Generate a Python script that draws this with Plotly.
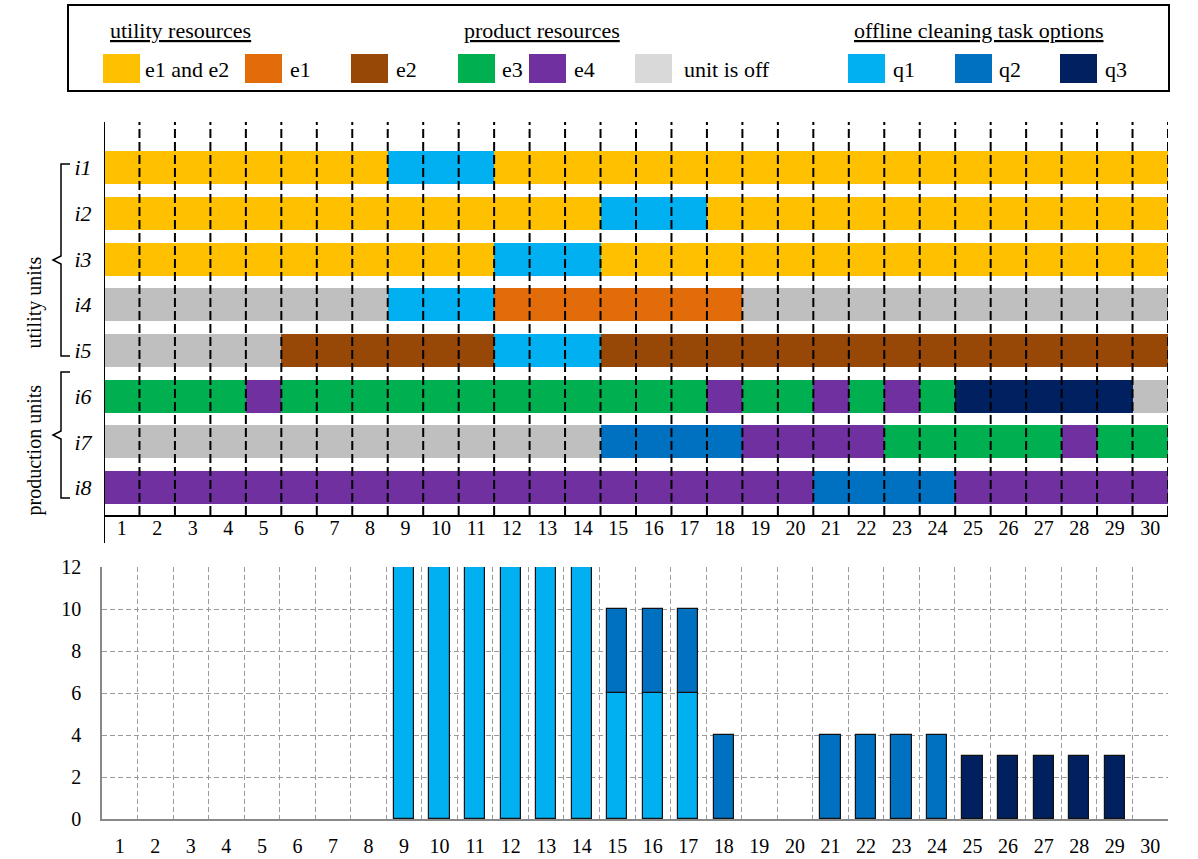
import plotly.graph_objects as go

# ---------------- data ----------------
periods = list(range(1, 31))
units = ["i1", "i2", "i3", "i4", "i5", "i6", "i7", "i8"]

# schedule per unit: (first period, last period, state)
sched_i1 = [(1, 8, "e12"), (9, 11, "q1"), (12, 30, "e12")]
sched_i2 = [(1, 14, "e12"), (15, 17, "q1"), (18, 30, "e12")]
sched_i3 = [(1, 11, "e12"), (12, 14, "q1"), (15, 30, "e12")]
sched_i4 = [(1, 8, "off"), (9, 11, "q1"), (12, 18, "e1"), (19, 30, "off")]
sched_i5 = [(1, 5, "off"), (6, 11, "e2"), (12, 14, "q1"), (15, 30, "e2")]
sched_i6 = [(1, 4, "e3"), (5, 5, "e4"), (6, 17, "e3"), (18, 18, "e4"), (19, 20, "e3"),
            (21, 21, "e4"), (22, 22, "e3"), (23, 23, "e4"), (24, 24, "e3"),
            (25, 29, "q3"), (30, 30, "off")]
sched_i7 = [(1, 14, "off"), (15, 18, "q2"), (19, 22, "e4"), (23, 27, "e3"),
            (28, 28, "e4"), (29, 30, "e3")]
sched_i8 = [(1, 20, "e4"), (21, 24, "q2"), (25, 30, "e4")]
schedules = [sched_i1, sched_i2, sched_i3, sched_i4, sched_i5, sched_i6, sched_i7, sched_i8]

# number of units in cleaning per period
q1_count = [0, 0, 0, 0, 0, 0, 0, 0, 12, 12, 12, 12, 12, 12, 6, 6, 6, 0, 0, 0, 0, 0, 0, 0, 0, 0, 0, 0, 0, 0]
q2_count = [0, 0, 0, 0, 0, 0, 0, 0, 0, 0, 0, 0, 0, 0, 4, 4, 4, 4, 0, 0, 4, 4, 4, 4, 0, 0, 0, 0, 0, 0]
q3_count = [0, 0, 0, 0, 0, 0, 0, 0, 0, 0, 0, 0, 0, 0, 0, 0, 0, 0, 0, 0, 0, 0, 0, 0, 3, 3, 3, 3, 3, 0]

# legend labels
legend_labels = ["e1 and e2", "e1", "e2", "e3", "e4", "unit is off", "q1", "q2", "q3"]
legend_states = ["e12", "e1", "e2", "e3", "e4", "off_leg", "q1", "q2", "q3"]
legend_headers = ["utility resources", "product resources", "offline cleaning task options"]

# ---------------- style ----------------
colors = {
    "e12": "#FFC000", "e1": "#E36C0A", "e2": "#974706", "e3": "#00B050",
    "e4": "#7030A0", "off": "#BFBFBF", "off_leg": "#D9D9D9",
    "q1": "#00B0F0", "q2": "#0070C0", "q3": "#002060",
}
FONT = "Liberation Serif"
W, H = 1198, 859


def px(x):
    return x / W


def py(y):
    return 1 - y / H


fig = go.Figure()

# ---------------- Gantt ----------------
state_order = ["e12", "e1", "e2", "e3", "e4", "off", "q1", "q2", "q3"]
for st in state_order:
    ys, bases, lens = [], [], []
    for ui, sched in enumerate(schedules):
        for a, b, s in sched:
            if s == st:
                ys.append(ui + 1)
                bases.append(a - 0.5)
                lens.append(b - a + 1)
    if ys:
        fig.add_trace(go.Bar(
            orientation="h", y=ys, x=lens, base=bases, width=0.72,
            marker=dict(color=colors[st], line=dict(width=0)),
            xaxis="x", yaxis="y", showlegend=False, hoverinfo="skip",
        ))

# ---------------- bar chart ----------------
def nz(v):
    return [None if x == 0 else x for x in v]


bar_line = dict(color="#111111", width=1.2)
fig.add_trace(go.Bar(x=periods, y=nz(q1_count), width=0.57,
                     marker=dict(color=colors["q1"], line=bar_line),
                     xaxis="x2", yaxis="y2", showlegend=False))
fig.add_trace(go.Bar(x=periods, y=nz(q2_count), base=q1_count, width=0.57,
                     marker=dict(color=colors["q2"], line=bar_line),
                     xaxis="x2", yaxis="y2", showlegend=False))
fig.add_trace(go.Bar(x=periods, y=nz(q3_count), width=0.57,
                     marker=dict(color=colors["q3"], line=bar_line),
                     xaxis="x2", yaxis="y2", showlegend=False))

shapes = []
annotations = []

# dashed vertical separators in Gantt
for k in periods:
    shapes.append(dict(type="line", xref="x", yref="y domain", x0=k + 0.5, x1=k + 0.5,
                       y0=0, y1=1, line=dict(color="black", width=2, dash="9px,4px"),
                       layer="above"))
# Gantt vertical axis line (extends below x axis)
shapes.append(dict(type="line", xref="x", yref="y domain", x0=0.5, x1=0.5, y0=-0.0712, y1=1,
                   line=dict(color="black", width=2), layer="above"))

# brackets
def bracket(top, notch, bottom):
    p = (f"M {px(70)},{py(top)} L {px(61)},{py(top)} L {px(61)},{py(notch - 4)} "
         f"L {px(53)},{py(notch)} L {px(61)},{py(notch + 4)} L {px(61)},{py(bottom)} "
         f"L {px(70)},{py(bottom)}")
    return dict(type="path", xref="paper", yref="paper", path=p,
                line=dict(color="black", width=1.5))


shapes.append(bracket(164, 260, 356))
shapes.append(bracket(372, 435, 498))
annotations.append(dict(text="utility units", x=px(20), y=py(255), xref="paper", yref="paper",
                        textangle=-90, showarrow=False, font=dict(family=FONT, size=20, color="black")))
annotations.append(dict(text="production units", x=px(20), y=py(450), xref="paper", yref="paper",
                        textangle=-90, showarrow=False, font=dict(family=FONT, size=20, color="black")))

# legend box
shapes.append(dict(type="rect", xref="paper", yref="paper", x0=px(68), x1=px(1169),
                   y0=py(91), y1=py(5), line=dict(color="black", width=2)))
header_x = [108, 462, 852]
for t, hx in zip(legend_headers, header_x):
    annotations.append(dict(text=f"<u>{t}</u>", x=px(hx), y=py(30), xref="paper", yref="paper",
                            xanchor="left", yanchor="middle", showarrow=False,
                            font=dict(family=FONT, size=22, color="black")))
swatch_x = [103, 245, 351, 458, 529, 635, 848, 955, 1060]
text_x = [143, 288, 394, 500, 572, 682, 891, 997, 1103]
for lab, st, sx, tx in zip(legend_labels, legend_states, swatch_x, text_x):
    shapes.append(dict(type="rect", xref="paper", yref="paper", x0=px(sx), x1=px(sx + 37),
                       y0=py(83), y1=py(54), fillcolor=colors[st], line=dict(width=0)))
    annotations.append(dict(text=lab, x=px(tx), y=py(69), xref="paper", yref="paper",
                            xanchor="left", yanchor="middle", showarrow=False,
                            font=dict(family=FONT, size=22, color="black")))

grid_c = "#9A9A9A"
fig.update_layout(
    template="none",
    width=W, height=H, margin=dict(l=0, r=0, t=0, b=0, pad=0, autoexpand=False),
    paper_bgcolor="white", plot_bgcolor="white",
    barmode="overlay", bargap=0,
    font=dict(family=FONT, color="black"),
    shapes=shapes, annotations=annotations,
    xaxis=dict(domain=[px(104), px(1168)], range=[0.5, 30.5], anchor="y", automargin=False,
               tickvals=periods, ticktext=[str(p) for p in periods],
               showgrid=False, zeroline=False, showline=True, linecolor="black", linewidth=2,
               ticks="", ticklabelstandoff=-6,
               tickfont=dict(family=FONT, size=20, color="black")),
    yaxis=dict(domain=[py(515), py(122)], range=[8.6, 0], anchor="x", automargin=False,
               tickvals=list(range(1, 9)), ticktext=[f"<i>{u}</i>" for u in units],
               showgrid=False, zeroline=False, showline=False,
               ticks="outside", ticklen=7, tickcolor="rgba(0,0,0,0)",
               tickfont=dict(family=FONT, size=22, color="black")),
    xaxis2=dict(domain=[px(102), px(1168)], range=[0.5, 30.5], anchor="y2", automargin=False,
                tickvals=periods, ticktext=[str(p) for p in periods],
                showgrid=False, zeroline=False, showline=True, linecolor="#888888", linewidth=1.5,
                ticks="outside", ticklen=8, tickcolor="rgba(0,0,0,0)",
                minor=dict(tick0=0.5, dtick=1, showgrid=True, gridcolor=grid_c, gridwidth=1,
                           griddash="5px,3px", ticks=""),
                tickfont=dict(family=FONT, size=20, color="black")),
    yaxis2=dict(domain=[py(819), py(567)], range=[0, 12], anchor="x2", automargin=False,
                tickvals=[0, 2, 4, 6, 8, 10, 12], showgrid=True, gridcolor=grid_c, gridwidth=1,
                griddash="5px,3px", zeroline=False, showline=True, linecolor="#888888", linewidth=1.5,
                ticks="outside", ticklen=15, tickcolor="rgba(0,0,0,0)",
                tickfont=dict(family=FONT, size=20, color="black")),
)

fig.write_html("out.html", config={"displayModeBar": False},
               post_script="document.body.style.margin='0';")
